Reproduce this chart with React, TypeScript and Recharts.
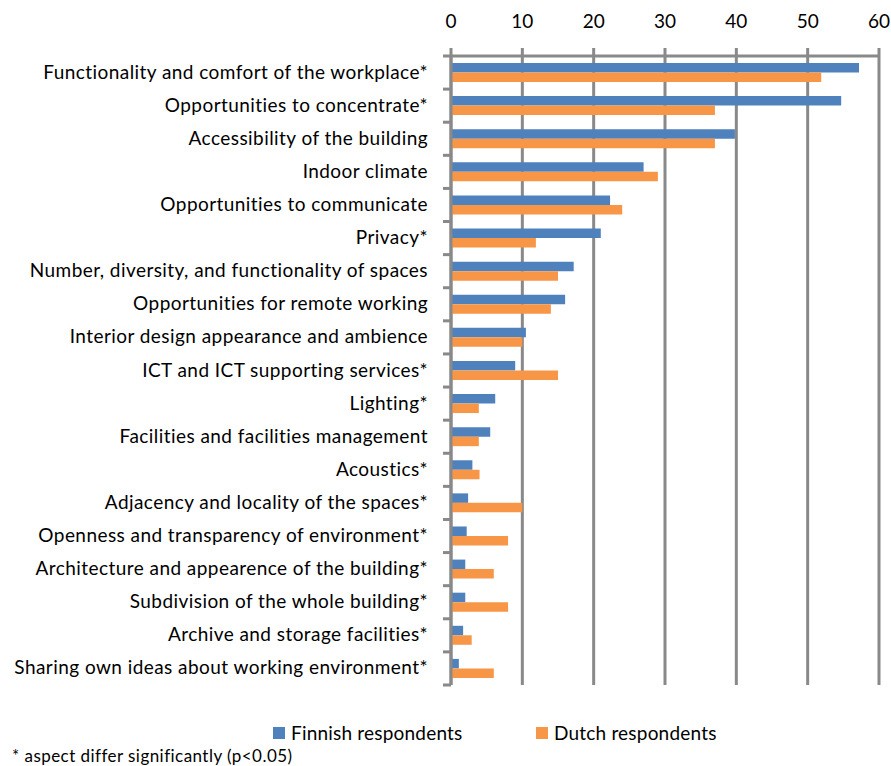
import React from "react";
import { BarChart, Bar, XAxis, YAxis, CartesianGrid, Legend } from "recharts";

const categories = [
  "Functionality and comfort of the workplace*",
  "Opportunities to concentrate*",
  "Accessibility of the building",
  "Indoor climate",
  "Opportunities to communicate",
  "Privacy*",
  "Number, diversity, and functionality of spaces",
  "Opportunities for remote working",
  "Interior design appearance and ambience",
  "ICT and ICT supporting services*",
  "Lighting*",
  "Facilities and facilities management",
  "Acoustics*",
  "Adjacency and locality of the spaces*",
  "Openness and transparency of environment*",
  "Architecture and appearence of the building*",
  "Subdivision of the whole building*",
  "Archive and storage facilities*",
  "Sharing own ideas about working environment*",
];

const finnish = [57.2, 54.7, 39.8, 27.0, 22.3, 21.0, 17.2, 16.0, 10.5, 9.0, 6.2, 5.5, 3.0, 2.4, 2.2, 2.0, 2.0, 1.7, 1.1];
const dutch = [51.9, 37.0, 37.0, 29.0, 24.0, 11.9, 15.0, 14.0, 10.0, 15.0, 3.9, 3.9, 4.0, 10.0, 8.0, 6.0, 8.0, 2.9, 6.0];

const xTicks = [0, 10, 20, 30, 40, 50, 60];

const seriesNames = ["Finnish respondents", "Dutch respondents"];
const seriesColors = ["#4F81BD", "#F79646"];

const data = categories.map((name, i) => ({
  name,
  finnish: finnish[i],
  dutch: dutch[i],
}));

const FONT = "Lato, 'Liberation Sans', sans-serif";
const GRID = "#898989";

const YTick = (props: any) => {
  const { x, y, payload, index } = props;
  const half = payload && payload.offset ? payload.offset : 16.55;
  const axisX = x + 23;
  return (
    <g>
      <text
        x={x}
        y={y}
        dy={6}
        textAnchor="end"
        fontSize={19}
        fontFamily={FONT}
        fill="#000"
        style={{ letterSpacing: 0.44 }}
      >
        {payload.value}
      </text>
      <line x1={axisX - 8} x2={axisX} y1={y + half} y2={y + half} stroke={GRID} strokeWidth={3} />
      {index === 0 && (
        <line x1={axisX - 8} x2={axisX} y1={y - half} y2={y - half} stroke={GRID} strokeWidth={3} />
      )}
    </g>
  );
};

const LegendContent = () => (
  <div style={{ fontFamily: FONT, fontSize: 19, color: "#000", position: "relative", height: 24, letterSpacing: 0.2 }}>
    {seriesNames.map((n, i) => (
      <div
        key={n}
        style={{
          position: "absolute",
          left: i === 0 ? 273 : 536,
          top: 0,
          display: "flex",
          alignItems: "center",
          whiteSpace: "nowrap",
        }}
      >
        <span
          style={{
            display: "inline-block",
            width: 12,
            height: 12,
            background: seriesColors[i],
            marginRight: 6,
          }}
        />
        <span>{n}</span>
      </div>
    ))}
  </div>
);

export default function App() {
  return (
    <div style={{ position: "absolute", left: 0, top: 0, width: 891, height: 766, background: "#fff" }}>
      <BarChart
        width={891}
        height={766}
        data={data}
        layout="vertical"
        margin={{ top: 0, right: 12, bottom: 81, left: 0 }}
        barGap={0}
      >
        <CartesianGrid horizontal={false} vertical={true} stroke={GRID} strokeWidth={3} />
        <XAxis
          type="number"
          orientation="top"
          domain={[0, 60]}
          ticks={xTicks}
          height={56}
          tickSize={8}
          tickMargin={20}
          axisLine={{ stroke: GRID, strokeWidth: 3 }}
          tickLine={{ stroke: GRID, strokeWidth: 3 }}
          tick={{ fill: "#000", fontSize: 19, fontFamily: FONT }}
          interval={0}
        />
        <YAxis
          type="category"
          dataKey="name"
          width={451}
          tickSize={0}
          tickMargin={23}
          axisLine={{ stroke: GRID, strokeWidth: 3 }}
          tickLine={false}
          tick={<YTick />}
          interval={0}
        />
        <Legend
          layout="horizontal"
          verticalAlign="middle"
          align="center"
          content={<LegendContent />}
          wrapperStyle={{ position: "absolute", left: 0, top: 721, width: 891 }}
        />
        <Bar dataKey="finnish" name={seriesNames[0]} fill={seriesColors[0]} barSize={9.5} isAnimationActive={false} />
        <Bar dataKey="dutch" name={seriesNames[1]} fill={seriesColors[1]} barSize={9.5} isAnimationActive={false} />
      </BarChart>
      <div
        style={{
          position: "absolute",
          left: 12,
          top: 745,
          fontFamily: FONT,
          fontSize: 17,
          letterSpacing: 0.45,
          color: "#000",
          whiteSpace: "nowrap",
        }}
      >
        * aspect differ significantly (p&lt;0.05)
      </div>
    </div>
  );
}
